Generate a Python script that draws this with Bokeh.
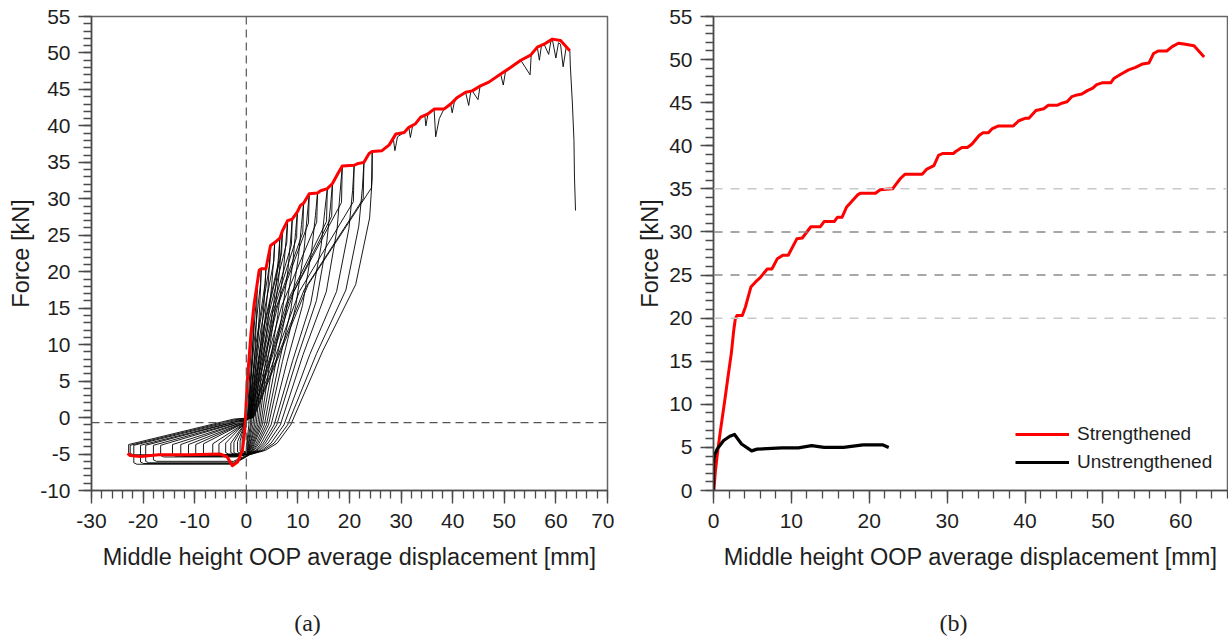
from bokeh.plotting import figure
from bokeh.layouts import row, column
from bokeh.models import Range1d, Span, FixedTicker, Legend, LegendItem, CustomJSTickFormatter
from bokeh.core.properties import value
from bokeh.embed import file_html
from bokeh.resources import INLINE

# ---------------- panel (a): envelope (red) ----------------
env_a_x = [-23.0, -22.5, -20.5, -17.0, -11.0, -5.0, -3.7, -2.7, -1.7, -0.75, -0.3, 0.2, 0.9, 1.5, 2.5, 2.9,
           3.8, 4.7, 5.5, 6.5, 7.0, 8.0, 8.9, 9.9, 10.5, 11.1, 12.2, 13.8, 14.4, 15.7, 16.7, 17.7, 18.6,
           20.9, 21.5, 22.8, 23.8, 24.4, 26.3, 27.7, 29.0, 30.6, 31.5, 32.8, 33.8, 35.1, 36.4, 38.3, 39.6,
           40.9, 42.5, 43.8, 45.4, 47.0, 49.3, 51.2, 53.2, 55.1, 56.4, 57.7, 59.3, 60.9, 62.7]
env_a_f = [-4.9, -5.2, -5.35, -5.1, -5.1, -5.0, -5.4, -6.6, -6.1, -4.5, -1.8, 5.1, 11.5, 15.5, 20.2, 20.4,
           20.4, 23.6, 24.0, 24.6, 25.6, 27.0, 27.2, 28.2, 29.1, 29.4, 30.7, 30.8, 31.1, 31.4, 32.1, 33.4, 34.5,
           34.6, 34.8, 35.0, 36.2, 36.5, 36.6, 37.4, 38.9, 39.1, 39.8, 40.3, 41.2, 41.6, 42.3, 42.3, 43.0,
           43.9, 44.6, 44.8, 45.5, 46.0, 47.1, 48.0, 49.0, 49.7, 50.8, 51.2, 51.9, 51.7, 50.3]

# black monotonic trace after the last cycle (with small unload dips) and final drop
trace_x = [24.4, 26.3, 27.7, 28.5, 28.8, 29.3, 30.6, 31.5, 31.8, 32.2, 32.8, 33.8, 34.6, 34.8, 35.2, 36.4,
           36.7, 37.4, 38.3, 39.6, 39.9, 40.3, 40.9, 42.5, 43.1, 43.5, 43.8, 44.9, 45.3, 47.0, 49.3, 49.8,
           50.2, 51.2, 53.2, 55.0, 55.2, 56.4, 56.8, 57.2, 57.7, 58.6, 59.0, 59.3, 60.0, 60.5, 60.9, 61.4,
           62.0, 62.7, 62.8, 63.2, 63.5, 63.6, 63.8]
trace_f = [36.5, 36.6, 37.4, 38.2, 36.6, 38.5, 39.1, 39.8, 38.4, 39.9, 40.3, 41.2, 41.4, 40.0, 41.6, 42.3,
           38.5, 41.0, 42.3, 43.0, 41.8, 43.2, 43.9, 44.6, 42.8, 44.7, 44.8, 43.6, 45.4, 46.0, 47.1, 45.6,
           47.3, 48.0, 49.0, 47.0, 49.6, 50.8, 49.0, 51.0, 51.2, 49.8, 51.5, 51.9, 49.3, 51.4, 51.2, 48.1,
           50.8, 50.3, 48.2, 43.0, 38.0, 33.0, 28.4]

# hysteresis cycles: peak, unloading, negative loop, reloading (x read at the given force levels)
cyc_d = [1.5, 2.2, 2.9, 3.8, 4.7, 5.5, 6.5, 7.0, 8.0, 8.9, 9.9, 11.1, 12.2, 13.8, 15.7, 16.7, 18.6, 20.9, 22.8, 24.4]
cyc_f = [15.5, 18.8, 20.4, 20.4, 23.6, 24.0, 24.6, 25.6, 27.0, 27.2, 28.2, 29.4, 30.7, 30.8, 31.4, 32.1, 34.5, 34.6, 35.0, 36.5]
cyc_drop = [1.0, 1.5, 2.0, 2.0, 2.5, 2.5, 3.0, 3.0, 3.0, 3.5, 3.5, 4.0, 4.0, 4.0, 4.5, 4.5, 5.0, 5.0, 5.0, 5.0]
unl_half_x = [0.8, 1.2, 1.5, 1.9, 2.4, 2.8, 3.3, 3.6, 4.1, 4.5, 5.0, 5.6, 6.1, 6.9, 7.8, 8.3, 9.2, 10.3, 11.2, 12.0]
unl_zero_x = [0.2, 0.3, 0.3, 0.4, 0.4, 0.5, 0.5, 0.6, 0.6, 0.7, 0.7, 0.8, 0.8, 0.9, 1.0, 1.0, 1.1, 1.2, 1.3, 1.4]
conv_x = [-0.2, -0.3, -0.3, -0.4, -0.4, -0.5, -0.5, -0.6, -0.6, -0.7, -0.8, -0.9, -1.0, -1.2, -1.4, -1.6, -1.8, -2.0, -2.2, -2.4]
conv_f = [-1.0, -1.0, -1.0, -1.0, -0.9, -0.9, -0.9, -0.9, -0.8, -0.8, -0.8, -0.7, -0.7, -0.6, -0.6, -0.5, -0.5, -0.4, -0.3, -0.2]
neg_x = [-0.8, -1.2, -1.7, -2.4, -3.0, -4.0, -5.3, -6.5, -8.3, -9.8, -11.2, -12.7, -14.3, -16.6, -18.0, -19.5, -20.5, -21.8, -22.5, -22.8]
neg_top = [-3.0, -3.2, -3.3, -3.4, -3.5, -3.5, -3.6, -3.6, -3.6, -3.7, -3.7, -3.7, -3.7, -3.8, -3.8, -3.8, -3.8, -3.8, -3.8, -3.7]
neg_bot = [-4.7, -4.8, -4.9, -5.0, -5.0, -5.0, -5.1, -5.1, -5.1, -5.2, -5.2, -5.3, -5.3, -5.4, -6.0, -6.2, -6.3, -6.4, -5.1, -5.2]
bot_end_x = [-0.4, -0.6, -0.8, -1.0, -1.2, -1.5, -1.8, -2.0, -2.0, -2.0, -2.0, -2.0, -2.0, -2.0, -2.5, -2.5, -2.5, -2.5, -2.0, -2.0]
rel_s = [-0.3, -0.2, -0.1, 0.0, 0.0, 0.1, 0.1, 0.2, 0.2, 0.3, 0.3, 0.4, 0.4, 0.5, 0.6, 0.7, 0.8, 0.9, 1.0, 1.1]
rel_x45 = [0.0, 0.1, 0.2, 0.3, 0.4, 0.5, 0.6, 0.7, 0.8, 1.0, 1.1, 1.3, 1.5, 1.8, 2.0, 2.3, 2.6, 3.0, 3.3, 3.7]
rel_x35 = [0.1, 0.2, 0.4, 0.5, 0.7, 0.8, 1.0, 1.2, 1.4, 1.6, 1.9, 2.2, 2.5, 2.9, 3.3, 3.7, 4.2, 4.8, 5.4, 6.0]
rel_x1 = [0.5, 0.8, 1.0, 1.3, 1.6, 1.9, 2.2, 2.5, 2.8, 3.1, 3.5, 3.9, 4.3, 4.8, 5.4, 5.9, 6.6, 7.3, 8.0, 8.6]
rel_xq = [0.8, 1.2, 1.6, 2.0, 2.5, 2.9, 3.4, 3.8, 4.4, 5.0, 5.6, 6.3, 7.0, 7.9, 9.0, 9.8, 11.0, 12.3, 13.6, 14.8]
rel_xh = [1.1, 1.7, 2.2, 2.8, 3.4, 4.0, 4.7, 5.2, 6.0, 6.8, 7.6, 8.6, 9.6, 10.9, 12.5, 13.6, 15.5, 17.5, 19.3, 21.2]
rel_x3q = [1.35, 2.0, 2.6, 3.4, 4.2, 4.9, 5.8, 6.3, 7.2, 8.1, 9.0, 10.1, 11.2, 12.7, 14.5, 15.6, 17.6, 19.9, 21.8, 23.9]
rel_x9 = [1.45, 2.1, 2.8, 3.65, 4.5, 5.3, 6.25, 6.75, 7.7, 8.6, 9.55, 10.7, 11.8, 13.4, 15.2, 16.3, 18.2, 20.6, 22.5, 24.4]

# ---------------- panel (b) ----------------
str_x = [0.0, 0.25, 0.6, 0.9, 1.5, 1.8, 2.3, 2.6, 2.8, 3.0, 3.7, 4.1, 4.8, 5.4, 6.0, 6.9, 7.5, 8.2, 8.9, 9.6,
         10.7, 11.4, 12.5, 13.7, 14.2, 15.5, 15.9, 16.5, 17.1, 17.8, 18.5, 18.9, 20.8, 21.4, 23.0, 23.4, 24.0,
         24.6, 26.8, 27.4, 28.3, 28.9, 29.4, 30.8, 31.2, 31.9, 32.6, 33.2, 34.1, 34.6, 35.3, 35.8, 36.6, 38.5,
         39.2, 40.1, 40.5, 41.4, 42.4, 43.0, 44.1, 44.6, 45.4, 46.0, 46.7, 47.3, 48.0, 48.7, 49.2, 49.9, 51.0,
         51.4, 52.3, 53.3, 54.2, 55.1, 55.9, 56.5, 57.1, 58.2, 58.9, 59.7, 60.4, 61.7, 63.0]
str_f = [-0.4, 2.3, 5.0, 7.0, 10.8, 12.8, 16.0, 18.6, 19.9, 20.3, 20.3, 21.3, 23.6, 24.2, 24.7, 25.7, 25.7, 26.9,
         27.3, 27.3, 29.2, 29.3, 30.6, 30.6, 31.2, 31.2, 31.7, 31.7, 32.9, 33.6, 34.3, 34.5, 34.5, 34.9, 35.0,
         35.5, 36.2, 36.7, 36.7, 37.3, 37.7, 38.9, 39.1, 39.1, 39.4, 39.8, 39.8, 40.2, 41.2, 41.5, 41.5, 42.0,
         42.3, 42.3, 42.9, 43.2, 43.2, 44.1, 44.3, 44.7, 44.7, 44.9, 45.1, 45.7, 45.9, 46.0, 46.4, 46.7, 47.1,
         47.3, 47.3, 47.8, 48.3, 48.8, 49.1, 49.5, 49.6, 50.7, 51.0, 51.0, 51.5, 51.9, 51.8, 51.6, 50.3]
uns_x = [0.0, 0.0, 0.13, 0.47, 1.3, 2.1, 2.7, 3.6, 4.9, 5.6, 8.8, 10.9, 12.6, 14.2, 16.7, 19.2, 21.7, 22.5]
uns_f = [-0.4, 3.1, 4.1, 4.8, 5.8, 6.3, 6.5, 5.4, 4.6, 4.8, 4.95, 4.95, 5.2, 5.0, 5.0, 5.3, 5.3, 5.0]

ref_levels = [20, 25, 30, 35]
ref_colors = ["#c8c8c8", "#8a8a8a", "#8a8a8a", "#c8c8c8"]

x_ticks_a = list(range(-30, 71, 10))
x_minor_a = list(range(-30, 71, 2))
y_ticks_a = list(range(-10, 56, 5))
y_minor_a = list(range(-10, 56, 1))
x_ticks_b = list(range(0, 61, 10))
x_minor_b = list(range(0, 67, 2))
y_ticks_b = list(range(0, 56, 5))
y_minor_b = list(range(0, 56, 1))

captions = ["(a)", "(b)"]

X_TITLE = "Middle height OOP average displacement [mm]"
Y_TITLE = "Force [kN]"
FONT = "Liberation Sans"
TXT = "#1e1e1e"
AX = "#4a4a4a"


def style(p, xt, xm, yt, ym):
    p.xgrid.visible = False
    p.ygrid.visible = False
    p.outline_line_color = "#666666"
    p.outline_line_width = 1.5
    p.background_fill_color = "white"
    p.border_fill_color = "white"
    p.xaxis.ticker = FixedTicker(ticks=xt, minor_ticks=xm)
    p.yaxis.ticker = FixedTicker(ticks=yt, minor_ticks=ym)
    fmt_code = "return String(Math.round(tick));"
    p.xaxis.formatter = CustomJSTickFormatter(code=fmt_code)
    p.yaxis.formatter = CustomJSTickFormatter(code=fmt_code)
    for ax in (p.xaxis[0], p.yaxis[0]):
        ax.axis_line_color = AX
        ax.axis_line_width = 1.5
        ax.major_tick_line_color = AX
        ax.minor_tick_line_color = AX
        ax.major_tick_line_width = 1.4
        ax.minor_tick_line_width = 1.3
        ax.major_tick_in = 0
        ax.minor_tick_in = 0
        ax.major_tick_out = 13
        ax.minor_tick_out = 8
        ax.major_label_text_font = FONT
        ax.major_label_text_font_size = "21px"
        ax.major_label_text_color = TXT
        ax.axis_label_text_font = FONT
        ax.axis_label_text_font_size = "23.5px"
        ax.axis_label_text_font_style = "normal"
        ax.axis_label_text_color = TXT
    p.xaxis.major_label_standoff = 10
    p.xaxis.axis_label_standoff = 13
    p.yaxis.major_label_standoff = 8
    p.yaxis.axis_label_standoff = 3
    p.xaxis.axis_label = X_TITLE
    p.yaxis.axis_label = Y_TITLE


# ---------- figure (a) ----------
pa = figure(width=614, height=582, x_range=Range1d(-30, 70), y_range=Range1d(-10, 55),
            output_backend="svg", toolbar_location=None,
            min_border_left=91, min_border_right=7, min_border_top=16, min_border_bottom=92)
style(pa, x_ticks_a, x_minor_a, y_ticks_a, y_minor_a)

pa.add_layout(Span(location=0, dimension="height", line_color="#555555", line_width=1.2, line_dash="8 5"))
pa.add_layout(Span(location=-0.7, dimension="width", line_color="#555555", line_width=1.2, line_dash="8 5"))

cxs, cys = [], []
for i in range(len(cyc_d)):
    d, f = cyc_d[i], cyc_f[i]
    cxs.append([d, d - 0.15, unl_half_x[i], unl_zero_x[i], conv_x[i], neg_x[i], neg_x[i], neg_x[i] + 0.6,
                bot_end_x[i], rel_s[i], rel_x45[i], rel_x35[i], rel_x1[i], rel_xq[i], rel_xh[i], rel_x3q[i],
                rel_x9[i], d])
    cys.append([f, f - cyc_drop[i], f / 2, 0.0, conv_f[i], neg_top[i], neg_bot[i] + 0.2, neg_bot[i],
                neg_bot[i], -5.0, -4.5, -3.5, -1.0, f / 4, f / 2, 3 * f / 4, 0.9 * f, f])
pa.multi_line(cxs, cys, line_color="black", line_width=0.9, line_join="round")
pa.line(trace_x, trace_f, line_color="black", line_width=0.9)
pa.line(env_a_x, env_a_f, line_color="#ff0000", line_width=3, line_join="round")

# ---------- figure (b) ----------
pb = figure(width=614, height=582, x_range=Range1d(0, 66), y_range=Range1d(0, 55),
            output_backend="svg", toolbar_location=None,
            min_border_left=99, min_border_right=1, min_border_top=16, min_border_bottom=92)
style(pb, x_ticks_b, x_minor_b, y_ticks_b, y_minor_b)

for lev, col in zip(ref_levels, ref_colors):
    pb.add_layout(Span(location=lev, dimension="width", line_color=col, line_width=1.5, line_dash="9 8"))

r_str = pb.line(str_x, str_f, line_color="#ff0000", line_width=3, line_join="round")
r_uns = pb.line(uns_x, uns_f, line_color="black", line_width=3.2, line_join="round")

leg = Legend(items=[LegendItem(label="Strengthened", renderers=[r_str]),
                    LegendItem(label="Unstrengthened", renderers=[r_uns])],
             location=(302, 17), orientation="vertical",
             padding=0, margin=0, spacing=6, glyph_width=54, glyph_height=20,
             label_height=20, label_standoff=8, label_text_font=FONT, label_text_font_size="19px",
             label_text_color=TXT, border_line_alpha=0, background_fill_alpha=0)
pb.add_layout(leg)

# ---------- caption strip ----------
pc = figure(width=1228, height=55, x_range=Range1d(0, 1228), y_range=Range1d(0, 55),
            output_backend="svg", toolbar_location=None, min_border=0)
pc.axis.visible = False
pc.xgrid.visible = False
pc.ygrid.visible = False
pc.outline_line_color = None
pc.text(x=[307, 953], y=[15, 15], text=captions, text_align="center", text_baseline="middle",
        text_font=value("Liberation Serif"), text_font_size="24px", text_color=TXT)

layout = column(row(pa, pb, spacing=0), pc, spacing=0)
open("out.html", "w").write(file_html(layout, INLINE))
